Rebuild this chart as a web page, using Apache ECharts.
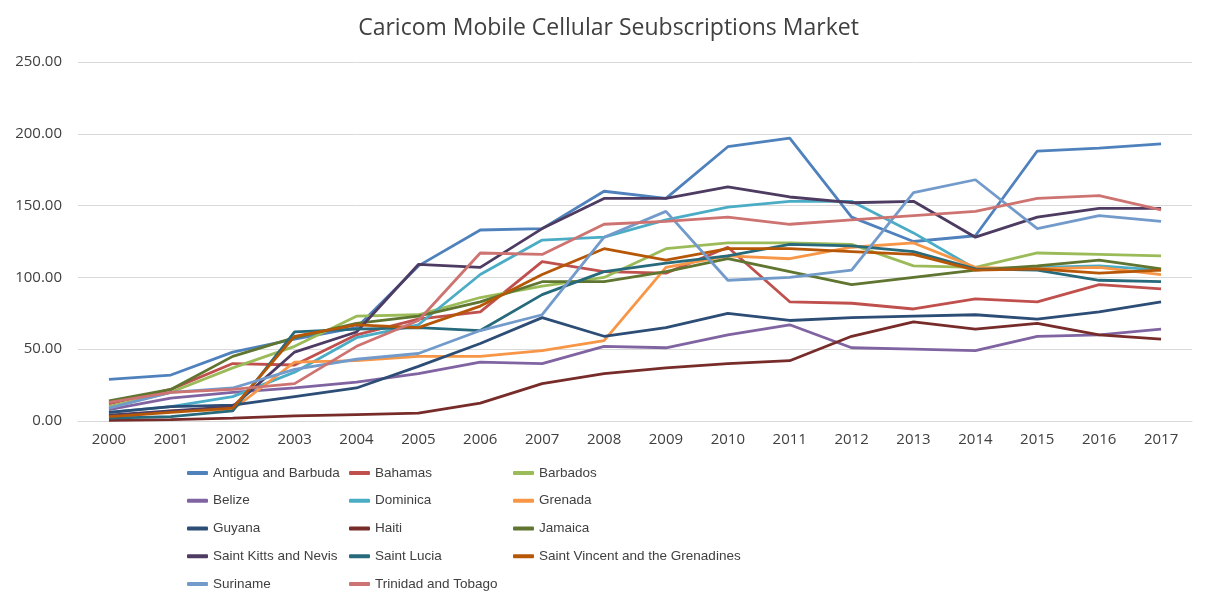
<!DOCTYPE html>
<html>
<head>
<meta charset="utf-8">
<script src="https://cdn.jsdelivr.net/npm/echarts@6/dist/echarts.min.js"></script>
<style>html,body{margin:0;padding:0;background:#fff}#c{width:1217px;height:610px}</style>
</head>
<body>
<div id="c"></div>
<script>
const years = ['2000','2001','2002','2003','2004','2005','2006','2007','2008','2009','2010','2011','2012','2013','2014','2015','2016','2017'];
const yTicks = [0, 50, 100, 150, 200, 250];

const antigua   = [29, 32, 48, 57, 65, 108, 133, 134, 160, 155, 191, 197, 142, 125, 129, 188, 190, 193];
const bahamas   = [12, 22, 40, 39, 60, 71, 76, 111, 104, 103, 121, 83, 82, 78, 85, 83, 95, 92];
const barbados  = [10, 20, 37, 52, 73, 74, 86, 94, 100, 120, 124, 124, 123, 108, 107, 117, 116, 115];
const belize    = [8, 16, 20, 23, 27, 33, 41, 40, 52, 51, 60, 67, 51, 50, 49, 59, 60, 64];
const dominica  = [6, 10, 17, 34, 58, 67, 102, 126, 128, 140, 149, 153, 153, 131, 106, 107, 108, 105];
const grenada   = [2, 7, 8, 41, 42, 45, 45, 49, 56, 107, 115, 113, 121, 124, 107, 106, 107, 102];
const guyana    = [6, 10, 11, 17, 23, 38, 54, 72, 59, 65, 75, 70, 72, 73, 74, 71, 76, 83];
const haiti     = [0.5, 1, 2, 3.5, 4.5, 5.5, 12.5, 26, 33, 37, 40, 42, 59, 69, 64, 68, 60, 57];
const jamaica   = [14, 22, 45, 58, 68, 73, 83, 97, 97, 104, 113, 104, 95, 100, 105, 108, 112, 106];
const stKitts   = [4, 7, 10, 48, 62, 109, 107, 134, 155, 155, 163, 156, 152, 153, 128, 142, 148, 148];
const stLucia   = [2, 3, 7, 62, 64, 65, 63, 88, 104, 110, 115, 123, 122, 118, 106, 105, 98, 97];
const stVincent = [3, 6, 9, 59, 67, 65, 80, 102, 120, 112, 120, 120, 118, 116, 105, 106, 103, 105];
const suriname  = [9, 20, 23, 36, 43, 47, 63, 74, 128, 146, 98, 100, 105, 159, 168, 134, 143, 139];
const trinidad  = [13, 20, 22, 26, 52, 70, 117, 116, 137, 139, 142, 137, 140, 143, 146, 155, 157, 147];

const seriesDefs = [
  ['Antigua and Barbuda', antigua, '#4f81bd'],
  ['Bahamas', bahamas, '#c0504d'],
  ['Barbados', barbados, '#9bbb59'],
  ['Belize', belize, '#8064a2'],
  ['Dominica', dominica, '#4bacc6'],
  ['Grenada', grenada, '#f79646'],
  ['Guyana', guyana, '#2c4d75'],
  ['Haiti', haiti, '#772c2a'],
  ['Jamaica', jamaica, '#5f7530'],
  ['Saint Kitts and Nevis', stKitts, '#4d3b62'],
  ['Saint Lucia', stLucia, '#276a7c'],
  ['Saint Vincent and the Grenadines', stVincent, '#b65708'],
  ['Suriname', suriname, '#729aca'],
  ['Trinidad and Tobago', trinidad, '#cd7371']
];

const names = seriesDefs.map(d => d[0]);
const col1 = [names[0], names[3], names[6], names[9], names[12]];
const col2 = [names[1], names[4], names[7], names[10], names[13]];
const col3 = [names[2], names[5], names[8], names[11]];

const legendBase = {
  orient: 'vertical', top: 461, itemWidth: 21, itemHeight: 4, itemGap: 13.75,
  icon: 'roundRect',
  textStyle: { fontFamily: '"Liberation Sans Narrow", "Liberation Sans", sans-serif', fontSize: 13.5, lineHeight: 14, color: '#404040' },
  selectedMode: false
};

const chart = echarts.init(document.getElementById('c'), null, { renderer: 'canvas' });
chart.setOption({
  animation: false,
  backgroundColor: '#ffffff',
  title: {
    text: 'Caricom Mobile Cellular Seubscriptions Market',
    left: 'center', top: 12,
    textStyle: { fontFamily: '"Open Sans", "Noto Sans", sans-serif', fontSize: 23, fontWeight: 'normal', color: '#404040' }
  },
  legend: [
    Object.assign({}, legendBase, { left: 182, data: col1 }),
    Object.assign({}, legendBase, { left: 344, data: col2 }),
    Object.assign({}, legendBase, { left: 508, data: col3 })
  ],
  grid: { left: 78, right: 25, top: 62, bottom: 189, containLabel: false },
  xAxis: {
    type: 'category', data: years, boundaryGap: true,
    axisLine: { show: true, lineStyle: { color: '#d9d9d9', width: 1 } },
    axisTick: { show: false },
    axisLabel: { color: '#404040', fontSize: 15, fontFamily: '"Open Sans", "Noto Sans", sans-serif', margin: 11 }
  },
  yAxis: {
    type: 'value', min: yTicks[0], max: yTicks[yTicks.length - 1], interval: 50,
    axisLine: { show: false }, axisTick: { show: false },
    splitLine: { lineStyle: { color: '#d9d9d9', width: 1 } },
    axisLabel: { color: '#404040', fontSize: 15, fontFamily: '"Open Sans", "Noto Sans", sans-serif', margin: 16,
      formatter: v => v.toFixed(2) }
  },
  series: seriesDefs.map(d => ({
    name: d[0], type: 'line', data: d[1], symbol: 'none', smooth: false,
    lineStyle: { color: d[2], width: 2.8 },
    itemStyle: { color: d[2] },
    emphasis: { disabled: true }
  }))
});
</script>
</body>
</html>
